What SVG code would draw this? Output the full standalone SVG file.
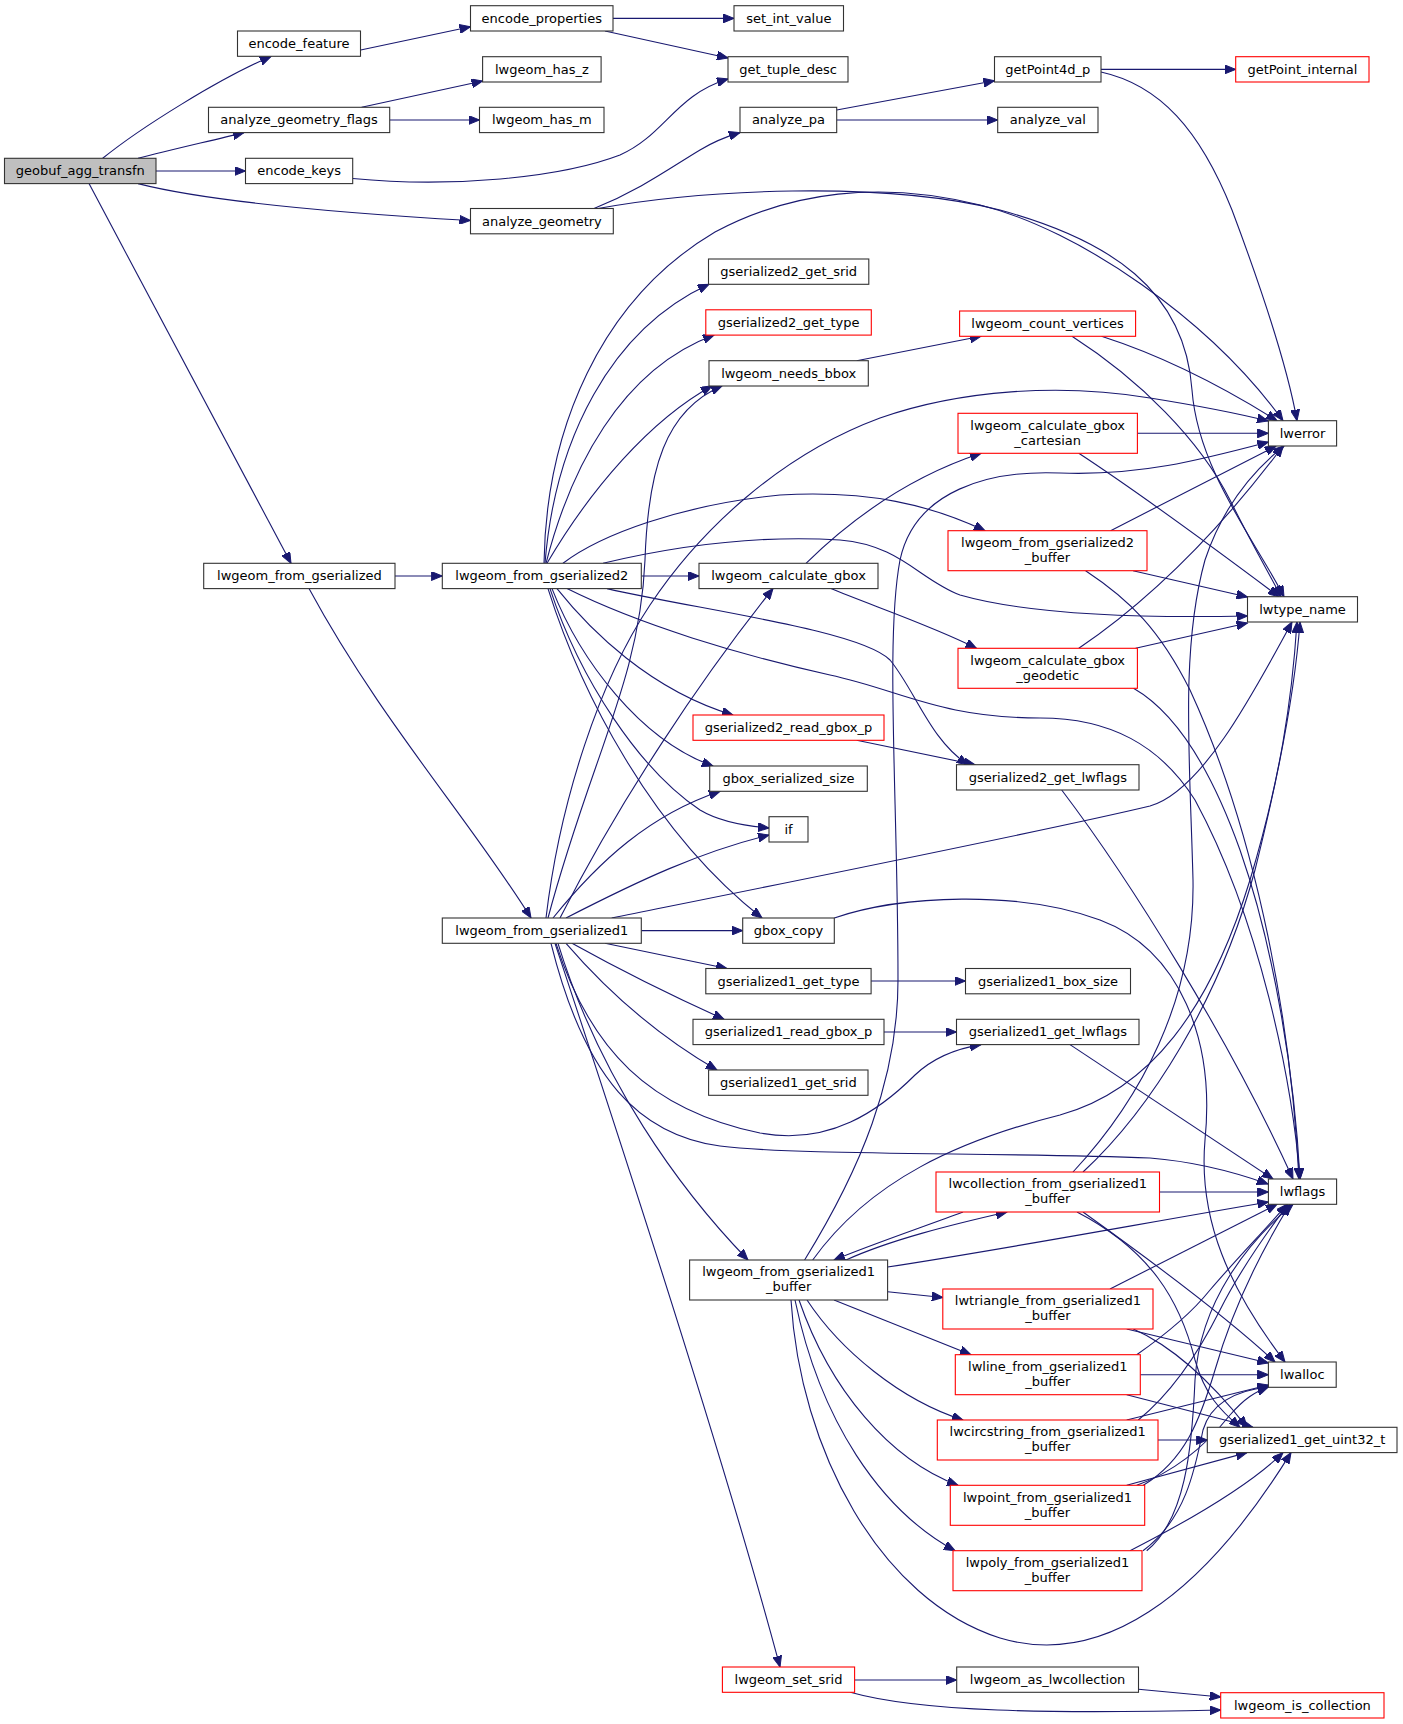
<svg xmlns="http://www.w3.org/2000/svg" width="1403" height="1724" viewBox="0 0 1403 1724">
<style>
.node rect{fill:#ffffff;stroke:#333333;stroke-width:1.1}
.node.red rect{stroke:#ff0000}
.node.root rect{fill:#bfbfbf}
.node text{font-family:"DejaVu Sans","Liberation Sans",sans-serif;font-size:13px;text-anchor:middle;fill:#000000}
#edges path{fill:none;stroke:#191970;stroke-width:1.1;marker-end:url(#ah)}
</style>
<defs>
<marker id="ah" markerUnits="userSpaceOnUse" markerWidth="12" markerHeight="9" refX="11" refY="4.5" orient="auto" viewBox="0 0 12 9">
<path d="M0,0 L11,4.5 L0,9 z" fill="#191970" stroke="#191970" stroke-width="1"/>
</marker>
</defs>
<rect x="0" y="0" width="1403" height="1724" fill="#ffffff"/>
<g id="edges">
<path d="M102.7,158.3 C140,128 220,78 271,56.5"/>
<path d="M138,158.3 C170,150 210,141 244,132.6"/>
<path d="M156,171 L245.5,171"/>
<path d="M138,183.6 C210,202 340,213 470.5,220.5"/>
<path d="M89,183.6 L291,563.3"/>
<path d="M360.7,50 L470.5,26.7"/>
<path d="M613,18.4 L734,18.4"/>
<path d="M605,31 L728,58"/>
<path d="M361.6,107.3 L482.6,81"/>
<path d="M389.7,120 L479.5,120"/>
<path d="M352.7,178.5 C450,188 560,178 620,155 C665,135 675,95 728,79"/>
<path d="M594,208.5 C640,190 670,168 700,150 C713,142 725,137 740,132.6"/>
<path d="M598,208.5 C700,190 880,180 1000,210 C1110,240 1185,290 1192,390 C1198,470 1255,540 1284,596.7"/>
<path d="M1101,69.4 L1235.7,69.4"/>
<path d="M1101,72 C1160,85 1200,130 1232,210 C1262,290 1288,370 1297,420.7"/>
<path d="M836.7,110 L994.5,80.7"/>
<path d="M836.7,120 L997.7,120"/>
<path d="M856.7,360.7 L981,336.3"/>
<path d="M1101.5,336.3 C1160,355 1220,385 1277,420.7"/>
<path d="M1072,336.3 C1140,380 1200,440 1230,500 C1255,550 1270,575 1281,596.7"/>
<path d="M1137.4,433.3 L1268.4,433.3"/>
<path d="M1078.8,453.3 C1150,500 1230,560 1279,596.7"/>
<path d="M1110.6,530.7 C1170,500 1230,470 1276,446"/>
<path d="M1133,570.7 L1247.5,597"/>
<path d="M1085.6,570.7 C1130,600 1160,630 1190,690 C1250,820 1290,1000 1299,1179"/>
<path d="M395,576 L442.3,576"/>
<path d="M309,588.6 C380,720 470,820 531,918"/>
<path d="M545,563.3 C555,440 610,330 709,284.3"/>
<path d="M546,563.3 C570,470 620,370 714,335.1"/>
<path d="M547,563.3 C590,490 650,420 712,386"/>
<path d="M544,563.3 C546,430 600,300 715,232 C790,192 880,180 980,205 C1080,230 1210,320 1283,420.7"/>
<path d="M563,563.3 C600,535 680,505 780,495 C870,490 930,505 985,530.7"/>
<path d="M603,563.3 C680,545 760,535 840,540 C900,545 920,580 960,595 C1030,615 1150,618 1247.5,616"/>
<path d="M641.3,576 L699,576"/>
<path d="M607,588.6 C700,610 860,630 890,660 C915,690 930,740 968,764.7"/>
<path d="M567,588.6 C640,625 740,655 830,675 C900,690 940,718 1040,718 C1110,718 1160,745 1195,800 C1260,920 1292,1080 1300,1179"/>
<path d="M557,588.6 C590,630 650,690 733,715"/>
<path d="M552,588.6 C580,660 640,740 713,766"/>
<path d="M550,588.6 C580,680 640,770 700,810 C720,822 745,826 769,828"/>
<path d="M548,588.6 C580,690 650,830 762,918"/>
<path d="M806,563.3 C840,530 900,480 981,453.3"/>
<path d="M831,588.6 C870,605 930,625 976.5,648.3"/>
<path d="M1078.8,648.3 C1150,600 1220,530 1283,446"/>
<path d="M1135.6,648.3 L1247.5,623"/>
<path d="M1133.5,688.3 C1180,715 1215,780 1240,850 C1275,950 1295,1080 1300,1179"/>
<path d="M856.7,740.3 L975,764.7"/>
<path d="M1061.7,790 C1130,880 1230,1040 1293,1179"/>
<path d="M548,918 C590,760 640,680 645,560 C648,470 665,410 722,386"/>
<path d="M546,918 C560,800 600,680 650,605 C700,530 780,455 880,418 C960,390 1060,383 1150,398 C1200,406 1240,414 1268,421"/>
<path d="M560,918 C620,800 700,680 773,588.6"/>
<path d="M553,918 C600,860 650,815 720,791.3"/>
<path d="M566,918 C640,880 700,852 769,835"/>
<path d="M611.7,918 C800,880 1050,830 1150,806 C1200,792 1250,700 1292,622"/>
<path d="M641.3,930.6 L742.7,930.6"/>
<path d="M605,943.3 L727,968.5"/>
<path d="M572,943.3 C620,970 670,995 724,1019.3"/>
<path d="M566,943.3 C615,1000 665,1040 717,1070"/>
<path d="M556,943.3 C590,1050 650,1110 760,1133 C830,1146 880,1110 915,1075 C935,1056 960,1048 981,1044.6"/>
<path d="M551,943.3 C585,1080 640,1135 720,1146 C800,1156 1000,1152 1150,1158 C1200,1162 1240,1174 1268,1184"/>
<path d="M558,943.3 C600,1080 680,1190 748,1260"/>
<path d="M555,943.3 C640,1200 730,1480 780,1667"/>
<path d="M834.3,918 C900,895 1020,890 1100,920 C1180,950 1215,1040 1205,1140 C1198,1220 1230,1290 1285,1362"/>
<path d="M871,981 L965.5,981"/>
<path d="M884,1032 L956.5,1032"/>
<path d="M1070,1044.6 L1273,1179"/>
<path d="M1159.5,1192 L1268.4,1192"/>
<path d="M1073,1172 C1140,1100 1195,1000 1193,880 C1190,760 1180,650 1205,560 C1225,500 1260,465 1284,446"/>
<path d="M1083,1172 C1150,1110 1220,1000 1255,870 C1280,770 1295,690 1300,622"/>
<path d="M1083,1212 C1150,1260 1230,1320 1275,1362"/>
<path d="M1077,1212 C1150,1250 1180,1300 1195,1360 C1205,1395 1220,1410 1240,1427.3"/>
<path d="M963,1212 C920,1228 870,1245 834,1260"/>
<path d="M846,1260 C890,1240 950,1225 1007,1212"/>
<path d="M887.6,1267 C1000,1250 1150,1222 1268.4,1202"/>
<path d="M804.6,1260 C860,1170 898,1080 898,980 C898,800 885,640 900,560 C915,490 990,470 1060,473 C1140,476 1200,460 1268.4,442"/>
<path d="M812.7,1260 C870,1180 960,1140 1060,1115 C1150,1090 1210,1010 1250,880 C1280,780 1292,700 1297,622"/>
<path d="M887.6,1291.7 L942.8,1297.5"/>
<path d="M834,1300 L971,1354.7"/>
<path d="M807,1300 C840,1350 900,1400 963,1420"/>
<path d="M799,1300 C830,1390 890,1460 958,1485.3"/>
<path d="M795,1300 C820,1420 880,1510 955,1550.7"/>
<path d="M791,1300 C800,1450 880,1600 1000,1638 C1100,1668 1200,1600 1291,1452.6"/>
<path d="M1110,1289 L1277,1204.3"/>
<path d="M1126.7,1329 L1268.4,1363"/>
<path d="M1133.3,1329 C1170,1345 1210,1380 1247,1427.3"/>
<path d="M1136.7,1354.7 C1165,1335 1190,1315 1210,1290 C1240,1255 1265,1230 1287,1204.3"/>
<path d="M1140.3,1374.7 L1268.4,1374.7"/>
<path d="M1126.7,1394.7 L1253,1427.3"/>
<path d="M1138.3,1420 C1175,1390 1200,1350 1220,1310 C1240,1270 1265,1235 1288,1204.3"/>
<path d="M1126.7,1420 L1268.4,1385"/>
<path d="M1158,1440 L1207.3,1440"/>
<path d="M1143.3,1485.3 C1185,1460 1200,1420 1215,1370 C1235,1300 1265,1245 1290,1204.3"/>
<path d="M1136.7,1485.3 C1180,1470 1210,1440 1230,1415 C1245,1398 1255,1392 1268.4,1387"/>
<path d="M1126.7,1485.3 L1247,1452.6"/>
<path d="M1146.7,1550.7 C1185,1520 1192,1450 1195,1380 C1200,1300 1250,1240 1293,1204.3"/>
<path d="M1143,1550.7 C1185,1520 1195,1470 1203,1430 C1212,1400 1240,1390 1268.4,1387"/>
<path d="M1130,1550.7 C1190,1520 1250,1485 1283,1452.6"/>
<path d="M854.6,1680 L956.7,1680"/>
<path d="M850.3,1692.3 C920,1712 1050,1714 1220.7,1710"/>
<path d="M1138.5,1689.3 L1220.7,1697"/>
</g>
<g id="n1" class="node root"><rect x="4.5" y="158.3" width="151.5" height="25.3"/><text x="80.3" y="175.3">geobuf_agg_transfn</text></g>
<g id="n2" class="node"><rect x="237.5" y="31" width="123" height="25.3"/><text x="299" y="48">encode_feature</text></g>
<g id="n3" class="node"><rect x="470.5" y="5.7" width="142.5" height="25.3"/><text x="541.8" y="22.7">encode_properties</text></g>
<g id="n4" class="node"><rect x="734" y="5.7" width="109.5" height="25.3"/><text x="788.8" y="22.7">set_int_value</text></g>
<g id="n5" class="node"><rect x="482.6" y="56.7" width="118.5" height="25.3"/><text x="541.9" y="73.7">lwgeom_has_z</text></g>
<g id="n6" class="node"><rect x="208.5" y="107.3" width="181.2" height="25.3"/><text x="299.1" y="124.3">analyze_geometry_flags</text></g>
<g id="n7" class="node"><rect x="479.5" y="107.3" width="124.5" height="25.3"/><text x="541.8" y="124.3">lwgeom_has_m</text></g>
<g id="n8" class="node"><rect x="728" y="56.7" width="120" height="25.3"/><text x="788" y="73.7">get_tuple_desc</text></g>
<g id="n9" class="node"><rect x="245.5" y="158.3" width="107.2" height="25.3"/><text x="299.1" y="175.3">encode_keys</text></g>
<g id="n10" class="node"><rect x="470.5" y="208.5" width="142.8" height="25.3"/><text x="541.9" y="225.5">analyze_geometry</text></g>
<g id="n11" class="node"><rect x="740" y="107.3" width="96.7" height="25.3"/><text x="788.4" y="124.3">analyze_pa</text></g>
<g id="n12" class="node"><rect x="994.5" y="56.7" width="106.5" height="25.3"/><text x="1047.8" y="73.7">getPoint4d_p</text></g>
<g id="n13" class="node red"><rect x="1235.7" y="56.7" width="133.3" height="25.3"/><text x="1302.4" y="73.7">getPoint_internal</text></g>
<g id="n14" class="node"><rect x="997.7" y="107.3" width="100.3" height="25.3"/><text x="1047.9" y="124.3">analyze_val</text></g>
<g id="n15" class="node"><rect x="708.5" y="259" width="160.3" height="25.3"/><text x="788.7" y="276">gserialized2_get_srid</text></g>
<g id="n16" class="node red"><rect x="705.8" y="309.8" width="165.5" height="25.3"/><text x="788.6" y="326.8">gserialized2_get_type</text></g>
<g id="n17" class="node"><rect x="709" y="360.7" width="159.3" height="25.3"/><text x="788.7" y="377.7">lwgeom_needs_bbox</text></g>
<g id="n18" class="node red"><rect x="959.6" y="311" width="176" height="25.3"/><text x="1047.6" y="328">lwgeom_count_vertices</text></g>
<g id="n19" class="node"><rect x="1268.4" y="420.7" width="68.2" height="25.3"/><text x="1302.5" y="437.7">lwerror</text></g>
<g id="n20" class="node red"><rect x="958" y="413.3" width="179.4" height="40"/><text x="1047.7" y="429.6">lwgeom_calculate_gbox</text><text x="1047.7" y="444.6">_cartesian</text></g>
<g id="n21" class="node red"><rect x="948" y="530.7" width="199" height="40"/><text x="1047.5" y="547">lwgeom_from_gserialized2</text><text x="1047.5" y="562">_buffer</text></g>
<g id="n22" class="node"><rect x="1247.5" y="596.7" width="110" height="25.3"/><text x="1302.5" y="613.7">lwtype_name</text></g>
<g id="n23" class="node"><rect x="203.7" y="563.3" width="191.3" height="25.3"/><text x="299.4" y="580.3">lwgeom_from_gserialized</text></g>
<g id="n24" class="node"><rect x="442.3" y="563.3" width="199" height="25.3"/><text x="541.8" y="580.3">lwgeom_from_gserialized2</text></g>
<g id="n25" class="node"><rect x="699" y="563.3" width="179" height="25.3"/><text x="788.5" y="580.3">lwgeom_calculate_gbox</text></g>
<g id="n26" class="node red"><rect x="958" y="648.3" width="179.4" height="40"/><text x="1047.7" y="664.6">lwgeom_calculate_gbox</text><text x="1047.7" y="679.6">_geodetic</text></g>
<g id="n27" class="node red"><rect x="693" y="715" width="191" height="25.3"/><text x="788.5" y="732">gserialized2_read_gbox_p</text></g>
<g id="n28" class="node"><rect x="956.5" y="764.7" width="182.5" height="25.3"/><text x="1047.8" y="781.7">gserialized2_get_lwflags</text></g>
<g id="n29" class="node"><rect x="709.7" y="766" width="157.6" height="25.3"/><text x="788.5" y="783">gbox_serialized_size</text></g>
<g id="n30" class="node"><rect x="769" y="816.7" width="39" height="25.3"/><text x="788.5" y="833.7">if</text></g>
<g id="n31" class="node"><rect x="442.3" y="918" width="199" height="25.3"/><text x="541.8" y="935">lwgeom_from_gserialized1</text></g>
<g id="n32" class="node"><rect x="742.7" y="918" width="91.6" height="25.3"/><text x="788.5" y="935">gbox_copy</text></g>
<g id="n33" class="node"><rect x="705.8" y="968.5" width="165.3" height="25.3"/><text x="788.5" y="985.5">gserialized1_get_type</text></g>
<g id="n34" class="node"><rect x="965.5" y="968.5" width="165" height="25.3"/><text x="1048" y="985.5">gserialized1_box_size</text></g>
<g id="n35" class="node"><rect x="693" y="1019.3" width="191" height="25.3"/><text x="788.5" y="1036.3">gserialized1_read_gbox_p</text></g>
<g id="n36" class="node"><rect x="956.5" y="1019.3" width="182.5" height="25.3"/><text x="1047.8" y="1036.3">gserialized1_get_lwflags</text></g>
<g id="n37" class="node"><rect x="708.6" y="1070" width="159.4" height="25.3"/><text x="788.3" y="1087">gserialized1_get_srid</text></g>
<g id="n38" class="node"><rect x="1268.4" y="1179" width="68.2" height="25.3"/><text x="1302.5" y="1196">lwflags</text></g>
<g id="n39" class="node red"><rect x="936" y="1172" width="223.5" height="40"/><text x="1047.8" y="1188.3">lwcollection_from_gserialized1</text><text x="1047.8" y="1203.3">_buffer</text></g>
<g id="n40" class="node"><rect x="689.6" y="1260" width="198" height="40"/><text x="788.6" y="1276.3">lwgeom_from_gserialized1</text><text x="788.6" y="1291.3">_buffer</text></g>
<g id="n41" class="node red"><rect x="942.8" y="1289" width="210.2" height="40"/><text x="1047.9" y="1305.3">lwtriangle_from_gserialized1</text><text x="1047.9" y="1320.3">_buffer</text></g>
<g id="n42" class="node red"><rect x="955.3" y="1354.7" width="185" height="40"/><text x="1047.8" y="1371">lwline_from_gserialized1</text><text x="1047.8" y="1386">_buffer</text></g>
<g id="n43" class="node"><rect x="1268.4" y="1362" width="67.8" height="25.3"/><text x="1302.3" y="1379">lwalloc</text></g>
<g id="n44" class="node red"><rect x="937.3" y="1420" width="220.7" height="40"/><text x="1047.7" y="1436.3">lwcircstring_from_gserialized1</text><text x="1047.7" y="1451.3">_buffer</text></g>
<g id="n45" class="node"><rect x="1207.3" y="1427.3" width="189.7" height="25.3"/><text x="1302.2" y="1444.3">gserialized1_get_uint32_t</text></g>
<g id="n46" class="node red"><rect x="950.3" y="1485.3" width="194.4" height="40"/><text x="1047.5" y="1501.6">lwpoint_from_gserialized1</text><text x="1047.5" y="1516.6">_buffer</text></g>
<g id="n47" class="node red"><rect x="953" y="1550.7" width="189" height="40"/><text x="1047.5" y="1567">lwpoly_from_gserialized1</text><text x="1047.5" y="1582">_buffer</text></g>
<g id="n48" class="node red"><rect x="722.4" y="1667" width="132.2" height="25.3"/><text x="788.5" y="1684">lwgeom_set_srid</text></g>
<g id="n49" class="node"><rect x="956.7" y="1667" width="181.8" height="25.3"/><text x="1047.6" y="1684">lwgeom_as_lwcollection</text></g>
<g id="n50" class="node red"><rect x="1220.7" y="1692.7" width="163.3" height="25.3"/><text x="1302.4" y="1709.7">lwgeom_is_collection</text></g>
</svg>
